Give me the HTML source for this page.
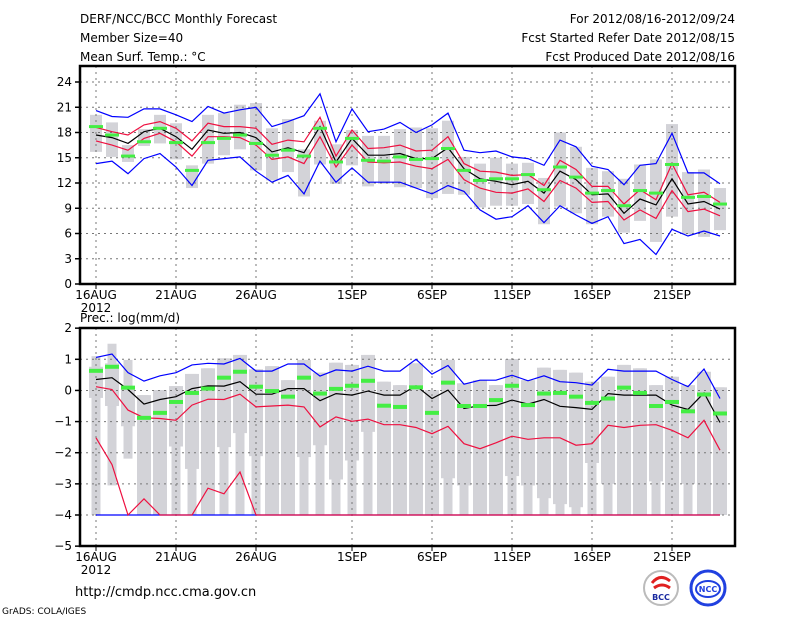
<!DOCTYPE html>
<html><head><meta charset="utf-8">
<style>
body{margin:0;background:#fff;width:800px;height:618px;overflow:hidden;font-family:"Liberation Sans",sans-serif;}
svg text{font-family:"DejaVu Sans","Liberation Sans",sans-serif;font-size:12px;fill:#000;}
</style></head><body>
<svg id="chart" width="800" height="618" xmlns="http://www.w3.org/2000/svg">
<text x="80" y="23">DERF/NCC/BCC Monthly Forecast</text>
<text x="80" y="42">Member Size=40</text>
<text x="80" y="61">Mean Surf. Temp.: °C</text>
<text x="735" y="23" text-anchor="end">For 2012/08/16-2012/09/24</text>
<text x="735" y="42" text-anchor="end">Fcst Started Refer Date 2012/08/15</text>
<text x="735" y="61" text-anchor="end">Fcst Produced Date 2012/08/16</text>
<text x="80" y="322">Prec.: log(mm/d)</text>
<text x="75" y="596" style="font-size:13px">http://cmdp.ncc.cma.gov.cn</text>
<text x="2" y="614" style="font-size:9px">GrADS: COLA/IGES</text>
<g>
<circle cx="661" cy="588" r="17" fill="#fff" stroke="#bbb" stroke-width="2"/>
<path d="M652 583 q8 -10 18 -2 M654 588 q8 -6 16 0" stroke="#e02020" stroke-width="3" fill="none"/>
<text x="661" y="600" text-anchor="middle" style="font-size:8px;font-weight:bold;fill:#1a2aa0">BCC</text>
</g>
<g>
<circle cx="708" cy="588" r="17" fill="#fff" stroke="#2040e0" stroke-width="3"/>
<ellipse cx="708" cy="589" rx="12" ry="8" fill="none" stroke="#2040e0" stroke-width="2"/>
<text x="708" y="592" text-anchor="middle" style="font-size:8px;font-weight:bold;fill:#2040e0">NCC</text>
</g>
<g id="top"></g>
<g id="bot"></g>
</svg>
<script>
// ---- data ----
const days = 40;
const xTickLabels = ["16AUG","21AUG","26AUG","1SEP","6SEP","11SEP","16SEP","21SEP"];
const xTickDays = [0,5,10,16,21,26,31,36];
const tTicks = [0,3,6,9,12,15,18,21,24];
const pTicks = [-5,-4,-3,-2,-1,0,1,2];
// Temperature panel
const tBlueHi=[20.6,19.9,19.8,20.8,20.8,20.1,19.3,21.1,20.3,20.7,21,18.7,19.3,20,22.6,16.9,20.8,18.1,18.4,19.2,18,18.9,20.3,15.9,15.6,15.8,15.1,14.9,14.1,17.1,16.3,14,13.6,11.8,14.1,14.3,17.9,13.2,13.2,11.9];
const tRedHi=[18.6,18.1,17.7,18.9,19.3,18.5,17,19.1,18.7,18.7,18.5,16.6,17.1,16.9,19.8,15.2,18.3,16.1,16.2,16.5,15.8,15.9,17.5,14.3,13.4,13.3,12.9,13,11.7,14.7,13.6,11.6,11.6,9.5,11.2,10,14.3,10.6,10.9,9.7];
const tMean=[17.7,17.4,16.7,18.1,18.5,17.5,16,18.3,17.9,18,17.4,15.7,16.2,15.6,18.7,14.5,17.3,15.3,15.3,15.5,14.9,14.9,16.2,13.7,12.5,12.2,11.8,12.2,10.8,13.4,12.4,10.6,10.7,8.4,10.1,9.4,12.5,9.5,9.8,8.9];
const tRedLo=[17,16.5,15.9,17.3,17.9,16.9,15.2,17.5,17.5,17.4,16.5,14.8,15.1,14.3,17.5,13.9,16.5,14.5,14.4,14.5,14,13.7,14.8,12.4,11.4,10.9,10.8,11.3,9.8,12.3,11.4,9.7,9.8,7.6,8.8,7.8,11.1,8.6,8.9,8.1];
const tBlueLo=[14.3,14.6,13.1,14.9,15.5,13.9,11.7,14.7,14.9,15.1,13.4,12.1,12.9,10.7,14.6,12.1,13.8,12.1,12.1,12.1,11.4,10.7,11.7,11,8.8,7.7,8,9.3,7.3,9.3,8.2,7.2,8,4.8,5.3,3.5,6.5,5.7,6.3,5.7];
const tObs=[18.7,17.7,15.2,16.9,18.5,16.8,13.5,16.8,17.3,17.7,16.7,15.3,15.9,15.2,18.5,14.5,17.3,14.7,14.6,15.1,14.8,14.9,16.1,13.5,12.3,12.5,12.5,13,11.2,13.9,12.7,10.8,11.1,9.3,11.1,10.8,14.2,10.3,10.4,9.5];
const tGrayHi=[20.1,19.2,16.5,18.4,20.1,19.1,14.1,20.1,20.3,21.3,21.5,18.5,19.6,16,19.4,16.6,18.3,17.6,17.6,18.4,18.6,18.5,19.4,15.1,14.3,15,14.3,14.4,12.6,18,16.3,13.8,13.4,12.5,14.2,14.8,19,13.3,13.6,11.4];
const tGrayLo=[15.7,15.1,14.5,16.4,16.7,14.8,11.4,14.3,15.3,16,13.5,12.3,13.3,10.4,14.2,11.9,14.1,11.6,11.9,11.5,11.4,10.2,10.7,10.6,9.1,9.3,9.3,9.5,7.1,9.2,8.4,7.1,8,6.1,7.5,5,8,5.9,5.6,6.4];
// Precipitation panel
const pBlueHi=[1.06,1.17,0.57,0.3,0.47,0.57,0.82,0.87,0.85,1.03,0.62,0.62,0.85,0.85,0.46,0.66,0.62,0.78,0.62,0.62,1.0,0.52,0.8,0.2,0.33,0.33,0.49,0.31,0.47,0.28,0.25,0.17,0.68,0.62,0.62,0.62,0.35,0.12,0.69,-0.26];
const pMean=[0.35,0.41,0.03,-0.44,-0.29,-0.2,0.06,0.15,0.14,0.28,-0.12,-0.12,0.06,0.06,-0.33,-0.1,-0.15,-0.02,-0.15,-0.15,0.15,-0.26,0.01,-0.58,-0.49,-0.48,-0.31,-0.44,-0.29,-0.51,-0.55,-0.61,-0.1,-0.15,-0.15,-0.15,-0.47,-0.61,-0.08,-1.03];
const pRedHi=[0.12,0.03,-0.63,-0.88,-0.9,-0.96,-0.47,-0.28,-0.29,-0.12,-0.53,-0.5,-0.47,-0.53,-1.17,-0.85,-0.99,-0.92,-1.1,-1.1,-1.19,-1.39,-1.15,-1.71,-1.87,-1.68,-1.47,-1.57,-1.52,-1.52,-1.76,-1.71,-1.12,-1.19,-1.12,-1.1,-1.28,-1.52,-0.96,-1.92];
const pRedLo=[-1.52,-2.38,-4,-3.48,-4,-4,-4,-3.14,-3.32,-2.62,-4,-4,-4,-4,-4,-4,-4,-4,-4,-4,-4,-4,-4,-4,-4,-4,-4,-4,-4,-4,-4,-4,-4,-4,-4,-4,-4,-4,-4,-4];
const pBlueLo=[-4,-4,-4,-4,-4,-4,-4,-4,-4,-4,-4,-4,-4,-4,-4,-4,-4,-4,-4,-4,-4,-4,-4,-4,-4,-4,-4,-4,-4,-4,-4,-4,-4,-4,-4,-4,-4,-4,-4,-4];
const pObs=[0.63,0.76,0.09,-0.88,-0.72,-0.37,-0.08,0.06,0.41,0.6,0.12,-0.02,-0.2,0.41,-0.1,0.05,0.15,0.31,-0.49,-0.53,0.1,-0.72,0.25,-0.5,-0.5,-0.31,0.15,-0.47,-0.1,-0.08,-0.2,-0.4,-0.26,0.09,-0.08,-0.5,-0.37,-0.67,-0.13,-0.74];
const pGrayHi=[1.1,1.5,0.98,-0.15,0.01,0.14,0.53,0.71,1.03,1.14,0.68,0.78,0.33,0.98,0.57,0.89,0.82,1.14,0.28,0.17,0.87,0.01,0.98,0.23,0.33,0.17,1.01,0.33,0.73,0.66,0.57,0.28,0.44,0.82,0.71,0.17,0.44,0.17,0.6,0.1];
const pBoxHi=[0.76,0.87,0.12,-0.15,0.01,0.14,0.53,0.71,1.03,1.14,0.68,0.78,0.33,0.98,0.57,0.89,0.82,1.14,0.28,0.17,0.87,0.01,0.98,0.23,0.33,0.17,1.01,0.33,0.73,0.66,0.57,0.28,0.44,0.82,0.71,0.17,0.44,0.17,0.6,0.1];
const pBoxLo=[-0.24,-0.5,-1.15,-4,-4,-1.8,-2.52,-4,-1.82,-1.37,-2.11,-4,-4,-2.14,-1.76,-2.86,-2.25,-1.33,-4,-4,-4,-4,-2.82,-3.05,-4,-4,-2.75,-3.05,-3.46,-3.65,-3.75,-2.33,-3.0,-4,-4,-2.92,-4,-3.0,-4,-4];
const pGrayLo=[-4,-3.05,-2.19,-4,-4,-4,-4,-4,-4,-4,-4,-4,-4,-4,-4,-4,-4,-4,-4,-4,-4,-4,-4,-4,-4,-4,-4,-4,-4,-4,-4,-4,-4,-4,-4,-4,-4,-4,-4,-4];

const NS="http://www.w3.org/2000/svg";
const X0=80,X1=735;
const xs=d=>96+16*d;
function mk(tag,attrs,parent){const e=document.createElementNS(NS,tag);for(const k in attrs)e.setAttribute(k,attrs[k]);parent.appendChild(e);return e;}

function panel(g,yTop,yBot,vmin,vmax,ticks,name){
  const ys=v=>yBot-(v-vmin)/(vmax-vmin)*(yBot-yTop);
  return ys;
}
// top panel scale: 0 at 284, 24 at 82
const yT=v=>284-v*(202/24);
const yP=v=>515-(v+4)*31.14;

function grid(g,ys,ticks,yTop,yBot,pfx,skipEnds){
  ticks.forEach(t=>{
    const y=ys(t);
    if(y>yTop+1&&y<yBot-1){
      const l=mk('line',{x1:X0,x2:X1,y1:y,y2:y,stroke:'#777','stroke-dasharray':'2,4','stroke-width':1},g);
      
      
    }
    mk('line',{x1:X0-5,x2:X0,y1:y,y2:y,stroke:'#000','stroke-width':1.5},g);
    const tx=mk('text',{x:X0-8,y:y+4,'text-anchor':'end'},g);
    tx.textContent=String(t).replace('-','\u2212');
    
    
  });
  xTickDays.forEach((d,i)=>{
    const x=xs(d);
    const l=mk('line',{x1:x,x2:x,y1:yTop,y2:yBot,stroke:'#777','stroke-dasharray':'2,4','stroke-width':1},g);
    
    
    mk('line',{x1:x,x2:x,y1:yBot,y2:yBot+5,stroke:'#000'},g);
    const tx=mk('text',{x:x,y:yBot+15,'text-anchor':'middle'},g);
    tx.textContent=xTickLabels[i];
    
    
  });
  const y2=mk('text',{x:xs(0),y:yBot+28,'text-anchor':'middle'},g);
  y2.textContent='2012';
  
  
}
function line(g,arr,ys,color,name){
  const pts=arr.map((v,i)=>xs(i)+','+ys(v).toFixed(1)).join(' ');
  const p=mk('polyline',{points:pts,fill:'none',stroke:color,'stroke-width':1.2},g);
  
  
}
function frame(g,yTop,yBot,name){
  const r=mk('rect',{x:X0,y:yTop,width:X1-X0,height:yBot-yTop,fill:'none',stroke:'#000','stroke-width':2.5},g);
  
  
}

// TOP PANEL
const gt=document.getElementById('top');
for(let i=0;i<days;i++){
  const r=mk('rect',{x:xs(i)-6,y:yT(tGrayHi[i]),width:12,height:yT(tGrayLo[i])-yT(tGrayHi[i]),fill:'#d3d3d8'},gt);
  
  
}
grid(gt,yT,tTicks,66,284,'temp');
line(gt,tBlueHi,yT,'#0000ff','temp-max-line');
line(gt,tBlueLo,yT,'#0000ff','temp-min-line');
line(gt,tRedHi,yT,'#ee1040','temp-upper-line');
line(gt,tRedLo,yT,'#ee1040','temp-lower-line');
line(gt,tMean,yT,'#000','temp-mean-line');
for(let i=0;i<days;i++){
  const r=mk('rect',{x:xs(i)-7,y:yT(tObs[i])-1.5,width:14,height:3,fill:'#44ee44'},gt);
  
  
}
frame(gt,66,284,'temp-plot-frame');

// BOTTOM PANEL
const gb=document.getElementById('bot');
for(let i=0;i<days;i++){
  const r=mk('rect',{x:xs(i)-4.5,y:yP(pGrayHi[i]),width:9,height:yP(pGrayLo[i])-yP(pGrayHi[i]),fill:'#d3d3d8'},gb);
  
  
  const b=mk('rect',{x:xs(i)-7,y:yP(pBoxHi[i]),width:14,height:yP(pBoxLo[i])-yP(pBoxHi[i]),fill:'#d3d3d8'},gb);
  
  
}
grid(gb,yP,pTicks,328,546,'prec');
line(gb,pBlueLo,yP,'#0000ff','prec-min-line');
line(gb,pRedLo,yP,'#ee1040','prec-lower-line');
line(gb,pRedHi,yP,'#ee1040','prec-upper-line');
line(gb,pBlueHi,yP,'#0000ff','prec-max-line');
line(gb,pMean,yP,'#000','prec-mean-line');
for(let i=0;i<days;i++){
  const r=mk('rect',{x:xs(i)-7,y:yP(pObs[i])-2,width:14,height:4,fill:'#44ee44'},gb);
  
  
}
frame(gb,328,546,'prec-plot-frame');
</script>
</body></html>
